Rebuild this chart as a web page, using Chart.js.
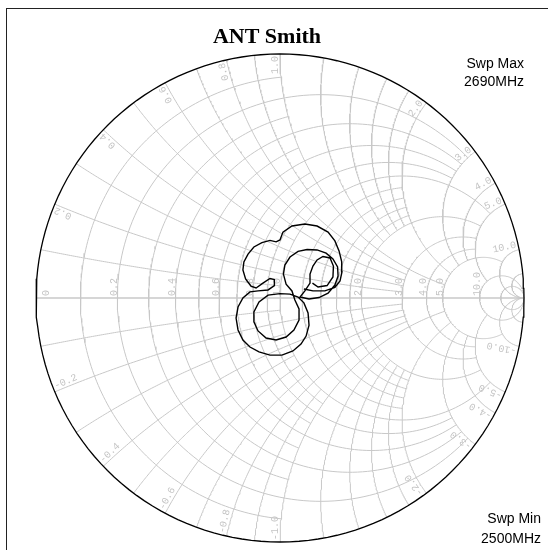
<!DOCTYPE html>
<html>
<head>
<meta charset="utf-8">
<script src="https://cdn.jsdelivr.net/npm/chart.js@4.4.1/dist/chart.umd.min.js"></script>
<style>
  html, body { margin: 0; padding: 0; background: #fff; }
  #wrap { width: 548px; height: 550px; }
</style>
</head>
<body>
<div id="wrap"><canvas id="smith" width="548" height="550"></canvas></div>
<script>
// S11 trace, reflection coefficient (re / im)
const traceRe = [0.098, 0.135, 0.184, 0.225, 0.246, 0.254, 0.253, 0.242, 0.225, 0.197,
  0.152, 0.102, 0.049, 0.012, 0.000, -0.016, -0.041, -0.074, -0.107, -0.131,
  -0.148, -0.152, -0.141, -0.119, -0.098, -0.070, -0.041, -0.023, -0.023, -0.049,
  -0.090, -0.123, -0.152, -0.172, -0.180, -0.172, -0.152, -0.123, -0.086, -0.041,
  0.008, 0.053, 0.086, 0.107, 0.119, 0.115, 0.098, 0.074, 0.041, 0.000,
  -0.049, -0.086, -0.107, -0.107, -0.090, -0.057, -0.016, 0.025, 0.057, 0.078,
  0.078, 0.061, 0.049, 0.025, 0.014, 0.020, 0.041, 0.074, 0.111, 0.152,
  0.189, 0.217, 0.236, 0.238, 0.225, 0.197, 0.160, 0.119, 0.082, 0.102,
  0.123, 0.123, 0.135, 0.152, 0.176, 0.205, 0.219, 0.217, 0.193, 0.156, 0.133];
const traceIm = [0.037, 0.029, 0.029, 0.043, 0.070, 0.107, 0.148, 0.193, 0.234, 0.270,
  0.295, 0.303, 0.295, 0.270, 0.238, 0.230, 0.236, 0.227, 0.209, 0.180,
  0.148, 0.115, 0.078, 0.049, 0.041, 0.061, 0.080, 0.076, 0.051, 0.033,
  0.029, 0.025, 0.000, -0.037, -0.082, -0.131, -0.172, -0.201, -0.221, -0.234,
  -0.234, -0.217, -0.189, -0.156, -0.111, -0.061, -0.020, 0.004, 0.016, 0.018,
  0.012, -0.016, -0.057, -0.098, -0.135, -0.164, -0.172, -0.160, -0.131, -0.090,
  -0.045, -0.008, 0.029, 0.057, 0.098, 0.135, 0.168, 0.191, 0.199, 0.197,
  0.184, 0.160, 0.127, 0.090, 0.053, 0.020, 0.002, -0.004, 0.004, 0.029,
  0.061, 0.098, 0.131, 0.156, 0.170, 0.164, 0.131, 0.086, 0.051, 0.045, 0.061];

// grid circles: value and how far they run along the other family
const gridValues = [0.1, 0.2, 0.3, 0.4, 0.5, 0.6, 0.7, 0.8, 0.9, 1, 1.2, 1.4, 1.6, 1.8, 2, 3, 4, 5, 10, 20];
const gridLimits = [1, 3, 1, 3, 1, 3, 1, 3, 1, 5, 2, 2, 2, 2, 5, 5, 5, 10, Infinity, Infinity];

const resistanceLabels = [0, 0.2, 0.4, 0.6, 0.8, 1, 2, 3, 4, 5, 10];
const reactanceLabels = [0.2, 0.4, 0.6, 0.8, 1, 2, 3, 4, 5, 10];
const chartTitle = 'ANT Smith';
const sweepMax = ['Swp Max', '2690MHz'];
const sweepMin = ['Swp Min', '2500MHz'];

const GRID = '#c8c8c8';

function gamma(r, x) {
  const d = (r + 1) * (r + 1) + x * x;
  return { x: (r * r + x * x - 1) / d, y: 2 * x / d };
}

// constant resistance circle, cut where |x| reaches xmax
function rCircle(r, xmax) {
  const c = r / (1 + r), rad = 1 / (1 + r);
  let t0 = 0;
  if (isFinite(xmax)) {
    const g = gamma(r, xmax);
    t0 = Math.atan2(g.y, g.x - c);
  }
  const pts = [];
  const n = 160;
  for (let i = 0; i <= n; i++) {
    const t = t0 + (2 * Math.PI - 2 * t0) * i / n;
    pts.push({ x: c + rad * Math.cos(t), y: rad * Math.sin(t) });
  }
  return pts;
}

// constant reactance arc from the rim to resistance rmax
function xArc(x, rmax, sign) {
  const cy = 1 / x, rad = 1 / x;
  const ang = g => {
    let a = Math.atan2(g.y - cy, g.x - 1);
    if (a < 0) a += 2 * Math.PI;
    return a;
  };
  const a0 = ang(gamma(0, x));
  const a1 = isFinite(rmax) ? ang(gamma(rmax, x)) : 1.5 * Math.PI;
  const pts = [];
  const n = 120;
  for (let i = 0; i <= n; i++) {
    const a = a0 + (a1 - a0) * i / n;
    pts.push({ x: 1 + rad * Math.cos(a), y: sign * (cy + rad * Math.sin(a)) });
  }
  return pts;
}

function line(data, color, width) {
  return { data, showLine: true, pointRadius: 0, borderColor: color, borderWidth: width, clip: false, tension: 0 };
}

const datasets = [];
datasets.push(line(traceRe.map((v, i) => ({ x: v, y: traceIm[i] })), '#000', 1.4));
datasets.push(line(rCircle(0, Infinity), '#000', 1.3));
gridValues.forEach((v, i) => {
  datasets.push(line(rCircle(v, gridLimits[i]), GRID, 1));
  datasets.push(line(xArc(v, gridLimits[i], 1), GRID, 1));
  datasets.push(line(xArc(v, gridLimits[i], -1), GRID, 1));
});
datasets.push(line([{ x: -1, y: 0 }, { x: 1, y: 0 }], '#d6d6d6', 2));

const fmt = v => v === 0 ? '0' : v.toFixed(1);

const smithText = {
  id: 'smithText',
  beforeDatasetsDraw(chart) {
    const ctx = chart.ctx;
    const X = v => chart.scales.x.getPixelForValue(v);
    const Y = v => chart.scales.y.getPixelForValue(v);
    ctx.save();
    ctx.fillStyle = '#c4c4c4';
    ctx.font = '10px "Liberation Mono", "DejaVu Sans Mono", monospace';
    // resistance labels along the real axis
    resistanceLabels.forEach(v => {
      let px = X((v - 1) / (v + 1));
      if (v === 0) px += 12.5;
      ctx.save();
      ctx.translate(px, Y(0) - 2);
      ctx.rotate(-Math.PI / 2);
      ctx.textAlign = 'left';
      ctx.fillText(fmt(v), 0, 0);
      ctx.restore();
    });
    // reactance labels on the rim
    reactanceLabels.forEach(v => {
      const phi = Math.PI - 2 * Math.atan(v);
      ctx.save();
      ctx.translate(X(Math.cos(phi)), Y(Math.sin(phi)));
      ctx.rotate(-phi);
      ctx.textAlign = 'right';
      ctx.fillText(fmt(v), -2, -2.5);
      ctx.restore();
      ctx.save();
      ctx.translate(X(Math.cos(phi)), Y(-Math.sin(phi)));
      ctx.rotate(phi + Math.PI);
      ctx.textAlign = 'left';
      ctx.fillText(fmt(-v), 2, -2.5);
      ctx.restore();
    });
    ctx.restore();
  },
  afterDraw(chart) {
    const ctx = chart.ctx;
    ctx.save();
    ctx.strokeStyle = '#222';
    ctx.lineWidth = 1;
    ctx.strokeRect(6.5, 8.5, 700, 700);
    ctx.fillStyle = '#000';
    ctx.font = 'bold 22px "Liberation Serif", "Times New Roman", serif';
    ctx.textAlign = 'center';
    ctx.fillText(chartTitle, 267, 43);
    ctx.font = '14px "Liberation Sans", Arial, sans-serif';
    ctx.textAlign = 'right';
    ctx.fillText(sweepMax[0], 524, 68);
    ctx.fillText(sweepMax[1], 524, 86);
    ctx.fillText(sweepMin[0], 541, 523);
    ctx.fillText(sweepMin[1], 541, 543);
    ctx.restore();
  }
};

new Chart(document.getElementById('smith'), {
  type: 'scatter',
  data: { datasets },
  options: {
    responsive: false,
    animation: false,
    events: [],
    layout: { padding: { left: 36, right: 24, top: 54, bottom: 8 } },
    plugins: { legend: { display: false }, tooltip: { enabled: false }, title: { display: false } },
    scales: {
      x: { type: 'linear', min: -1, max: 1, display: false },
      y: { type: 'linear', min: -1, max: 1, display: false }
    }
  },
  plugins: [smithText]
});
</script>
</body>
</html>
